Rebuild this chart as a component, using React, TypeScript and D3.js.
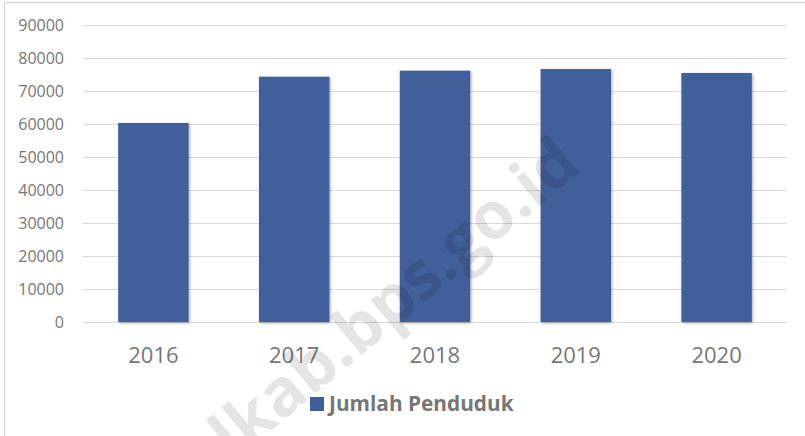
import React from "react";
import * as d3 from "d3";

const years = ["2016", "2017", "2018", "2019", "2020"];
const population = [60300, 74330, 76150, 76650, 75450];
const yTicks = [0, 10000, 20000, 30000, 40000, 50000, 60000, 70000, 80000, 90000];
const seriesName = "Jumlah Penduduk";
const watermark = "lkab.bps.go.id";

const W = 805;
const H = 436;
const M = { left: 83, right: 18, top: 25, bottom: 114 };
const BAR = "#3F5E9B";
const TXT = "#767676";
const GRID = "#d9d9d9";
const FONT = "'Open Sans', sans-serif";

export default function App() {
  const x = d3
    .scaleBand<string>()
    .domain(years)
    .range([M.left, W - M.right])
    .paddingInner(0.5)
    .paddingOuter(0.25);
  const y = d3.scaleLinear().domain([0, 90000]).range([H - M.bottom, M.top]);

  return (
    <svg
      width={W}
      height={H}
      style={{ position: "absolute", left: 0, top: 0, background: "#fff" }}
    >
      <defs>
        <filter id="sh" x="-20%" y="-20%" width="140%" height="140%">
          <feDropShadow dx="1" dy="1" stdDeviation="1.6" floodColor="#000" floodOpacity="0.35" />
        </filter>
      </defs>
      <rect x={0} y={0} width={W} height={H} fill="#fff" />
      <line x1={4.5} x2={W} y1={2.5} y2={2.5} stroke={GRID} strokeWidth={1.5} />
      <line x1={4.5} x2={4.5} y1={2.5} y2={H} stroke={GRID} strokeWidth={1.5} />

      {yTicks.map((t) => (
        <g key={t}>
          <line
            x1={M.left}
            x2={W - M.right}
            y1={Math.round(y(t)) + 0.5}
            y2={Math.round(y(t)) + 0.5}
            stroke={GRID}
            strokeWidth={1}
          />
          <text
            x={64}
            y={y(t)}
            dy="0.36em"
            textAnchor="end"
            fontFamily={FONT}
            fontSize={16}
            fill={TXT}
          >
            {t}
          </text>
        </g>
      ))}

      {years.map((yr, i) => (
        <rect
          key={yr}
          x={x(yr)}
          y={y(population[i])}
          width={x.bandwidth()}
          height={y(0) - y(population[i])}
          fill={BAR}
          filter="url(#sh)"
        />
      ))}

      {years.map((yr) => (
        <text
          key={yr}
          x={(x(yr) as number) + x.bandwidth() / 2}
          y={363}
          textAnchor="middle"
          fontFamily={FONT}
          fontSize={22}
          fill={TXT}
        >
          {yr}
        </text>
      ))}

      <rect x={310} y={397} width={14} height={14} fill={BAR} />
      <text x={329} y={411} fontFamily={FONT} fontSize={20.8} fontWeight={700} fill={TXT}>
        {seriesName}
      </text>

      <text
        transform="translate(234,462) rotate(-40)"
        fontFamily={FONT}
        fontSize={66}
        fontWeight={700}
        fill="#000"
        fillOpacity={0.1}
      >
        {watermark}
      </text>
    </svg>
  );
}
